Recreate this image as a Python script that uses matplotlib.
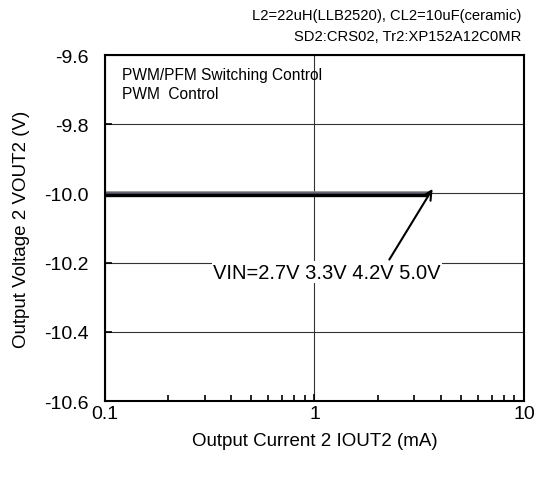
import matplotlib
matplotlib.use("Agg")
import matplotlib.pyplot as plt
from matplotlib.ticker import LogLocator, NullFormatter

plt.rcParams['font.family'] = ['Liberation Sans', 'DejaVu Sans']

# output current (mA) and output voltage for each input voltage
iout = [0.1, 0.2, 0.5, 1.0, 2.0, 3.0, 3.5]
vout_27 = [-10.001, -10.001, -10.001, -10.001, -10.001, -10.001, -10.001]
vout_33 = [-9.996, -9.996, -9.996, -9.996, -9.996, -9.996, -9.996]
vout_42 = [-9.998, -9.998, -9.998, -9.998, -9.998, -9.998, -9.998]
vout_50 = [-10.004, -10.004, -10.004, -10.004, -10.004, -10.004, -10.004]
iout_50 = [0.1, 0.2, 0.5, 1.0, 2.0, 3.0, 3.4]

yticks = [-9.6, -9.8, -10.0, -10.2, -10.4, -10.6]
xticks = [0.1, 1, 10]
xticklabels = ['0.1', '1', '10']

fig = plt.figure(figsize=(5.4, 4.85), dpi=100)
ax = fig.add_axes([0.1944, 0.1711, 0.776, 0.7134])

ax.plot(iout, vout_27, color='#8b1a1a', lw=1.2)
ax.plot(iout, vout_33, color='#8a8a8a', lw=1.2)
ax.plot(iout, vout_42, color='#5a6070', lw=1.2)
ax.plot(iout_50, vout_50, color='black', lw=2.4)

ax.set_xscale('log')
ax.set_xlim(0.1, 10)
ax.set_ylim(-10.6, -9.6)
ax.set_xticks(xticks)
ax.set_xticklabels(xticklabels)
ax.xaxis.set_minor_locator(LogLocator(base=10, subs=range(2, 10)))
ax.xaxis.set_minor_formatter(NullFormatter())
ax.set_yticks(yticks)
ax.set_yticklabels(['%.1f' % v for v in yticks])

ax.grid(True, which='major', color='#333333', lw=0.8)
ax.tick_params(axis='both', which='major', direction='in', length=5, width=1.2,
               labelsize=14)
ax.tick_params(axis='y', which='major', pad=12)
ax.tick_params(axis='x', which='major', pad=3)
ax.tick_params(axis='x', which='minor', direction='in', length=4, width=1.2)
for sp in ax.spines.values():
    sp.set_linewidth(1.5)

ax.set_xlabel('Output Current 2 IOUT2 (mA)', fontsize=13.5, va='center')
ax.set_ylabel('Output Voltage 2 VOUT2 (V)', fontsize=13.5, va='center')
ax.xaxis.set_label_coords(0.5, -0.115)
ax.yaxis.set_label_coords(-0.2, 0.5)

fig.text(0.965, 0.968, 'L2=22uH(LLB2520), CL2=10uF(ceramic)', ha='right', va='center', fontsize=10.6)
fig.text(0.965, 0.923, 'SD2:CRS02, Tr2:XP152A12C0MR', ha='right', va='center', fontsize=10.6)

ax.text(0.04, 0.945, 'PWM/PFM Switching Control', transform=ax.transAxes, fontsize=11.2, va='center')
ax.text(0.04, 0.89, 'PWM  Control', transform=ax.transAxes, fontsize=11.2, va='center')

ax.annotate('', xy=(3.72, -9.98), xytext=(2.24, -10.198),
            arrowprops=dict(arrowstyle='->', color='black', lw=1.5, mutation_scale=16))
ax.text(1.148, -10.228, 'VIN=2.7V 3.3V 4.2V 5.0V', ha='center', va='center', fontsize=14.5,
        bbox=dict(facecolor='white', edgecolor='none', pad=1))

fig.savefig('out.png', dpi=100)
